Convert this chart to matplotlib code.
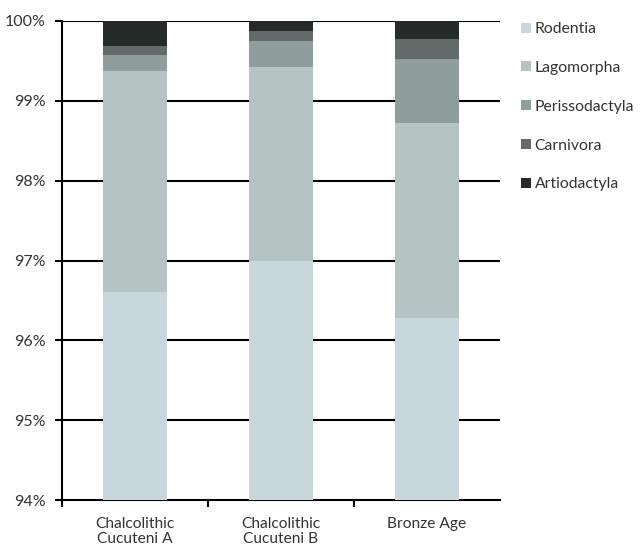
import matplotlib
matplotlib.use("Agg")
import matplotlib.pyplot as plt
from matplotlib.patches import Patch
import numpy as np

plt.rcParams['font.family'] = ['Lato', 'DejaVu Sans']

categories = ["Chalcolithic\nCucuteni A", "Chalcolithic\nCucuteni B", "Bronze Age"]
series_names = ["Rodentia", "Lagomorpha", "Perissodactyla", "Carnivora", "Artiodactyla"]
rodentia = [96.61, 97.00, 96.28]
lagomorpha = [2.76, 2.42, 2.44]
perissodactyla = [0.21, 0.33, 0.81]
carnivora = [0.11, 0.12, 0.25]
artiodactyla = [0.31, 0.13, 0.22]
yticks = [94, 95, 96, 97, 98, 99, 100]
ytick_labels = ["94%", "95%", "96%", "97%", "98%", "99%", "100%"]

colors = ["#c8d7db", "#b6c3c3", "#909d9d", "#626b6a", "#262a29"]
series = [rodentia, lagomorpha, perissodactyla, carnivora, artiodactyla]

fig = plt.figure(figsize=(6.43, 5.57), dpi=100)
ax = fig.add_axes([62/643, 1 - 500/557, (500-62)/643, (500-21)/557])

x = np.arange(len(categories))
bottom = np.zeros(len(categories))
for vals, col, name in zip(series, colors, series_names):
    ax.bar(x, vals, bottom=bottom, width=0.44, color=col, label=name, zorder=3)
    bottom += np.array(vals)

ax.set_ylim(94, 100)
ax.set_xlim(-0.5, 2.5)
ax.set_yticks(yticks)
ax.set_yticklabels(ytick_labels, fontsize=11.5, color="#333333")
for yv in yticks[1:]:
    ax.axhline(yv, color="black", lw=1.5, zorder=1)

ax.set_xticks(x)
ax.set_xticklabels(categories, fontsize=11.2, color="#333333", linespacing=1.15)
ax.tick_params(axis='x', length=0, pad=12)
ax.set_xticks([-0.5, 0.5, 1.5], minor=True)
ax.tick_params(axis='x', which='minor', length=5, width=1.5, direction='out')
ax.tick_params(axis='y', length=5, width=1.5, direction='out', pad=7)

for s in ["top", "right"]:
    ax.spines[s].set_visible(False)
for s in ["left", "bottom"]:
    ax.spines[s].set_linewidth(1.5)
    ax.spines[s].set_color("black")

handles = [Patch(facecolor=c, edgecolor='none') for c in colors]
fig.legend(handles, series_names, loc="upper left",
           bbox_to_anchor=(507/643, 1 - 8/557), frameon=False,
           fontsize=11.3, labelspacing=1.58, handlelength=0.6, handleheight=0.6,
           handletextpad=0.25, labelcolor="#333333")

fig.savefig("out.png", dpi=100)
